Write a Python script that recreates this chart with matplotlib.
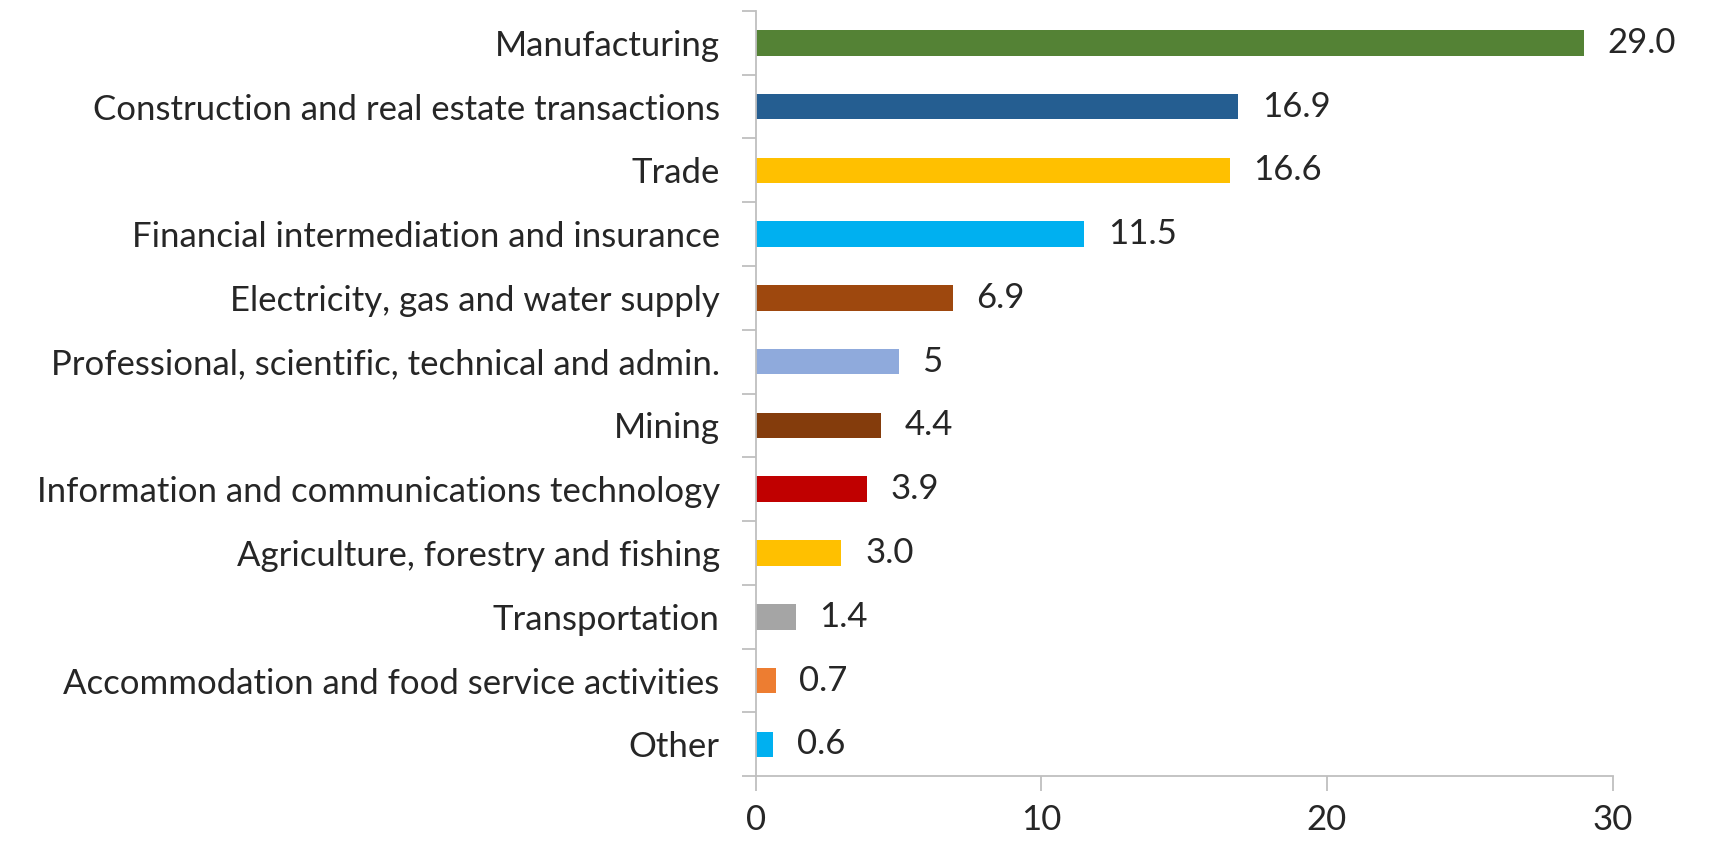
import matplotlib
matplotlib.use('Agg')
import matplotlib.pyplot as plt
import numpy as np

plt.rcParams['font.family'] = ['Lato', 'DejaVu Sans']

# datos
sectores = ['Manufacturing', 'Construction and real estate transactions', 'Trade',
            'Financial intermediation and insurance', 'Electricity, gas and water supply',
            'Professional, scientific, technical and admin.', 'Mining',
            'Information and communications technology', 'Agriculture, forestry and fishing',
            'Transportation', 'Accommodation and food service activities', 'Other']
valores = [29.0, 16.9, 16.6, 11.5, 6.9, 5.0, 4.4, 3.9, 3.0, 1.4, 0.7, 0.6]
etiquetas = ['29.0', '16.9', '16.6', '11.5', '6.9', '5', '4.4', '3.9', '3.0', '1.4', '0.7', '0.6']
colores = ['#548235', '#255e91', '#ffc000', '#00b0f0', '#9e480e', '#8faadc',
           '#843c0c', '#c00000', '#ffc000', '#a5a5a5', '#ed7d31', '#00b0f0']

fig = plt.figure(figsize=(17.1, 8.41), dpi=100)
ax = fig.add_axes([0.442, 0.077, 0.501, 0.910])

y = np.arange(len(sectores))
ax.barh(y, valores, height=0.4, color=colores)
for yi, v, t in zip(y, valores, etiquetas):
    ax.annotate(t, (v, yi), xytext=(17, 0), textcoords='offset points',
                va='center', ha='left', fontsize=25, color='#262626')

ax.set_ylim(len(sectores) - 0.5, -0.5)
ax.set_xlim(0, 30)
ax.set_xticks([0, 10, 20, 30])
ax.set_yticks(y)
ax.set_yticklabels(sectores, fontsize=25, color='#262626')
ax.set_yticks(np.arange(-0.5, len(sectores)), minor=True)
ax.tick_params(axis='y', which='major', length=0, pad=26)
ax.tick_params(axis='y', which='minor', length=10, color='#bfbfbf', width=1.3)
ax.tick_params(axis='x', length=11, color='#bfbfbf', width=1.3, labelsize=25,
               labelcolor='#262626', pad=9)

for s in ['top', 'right']:
    ax.spines[s].set_visible(False)
for s in ['left', 'bottom']:
    ax.spines[s].set_color('#bfbfbf')
    ax.spines[s].set_linewidth(1.3)

fig.savefig('out.png', dpi=100)
